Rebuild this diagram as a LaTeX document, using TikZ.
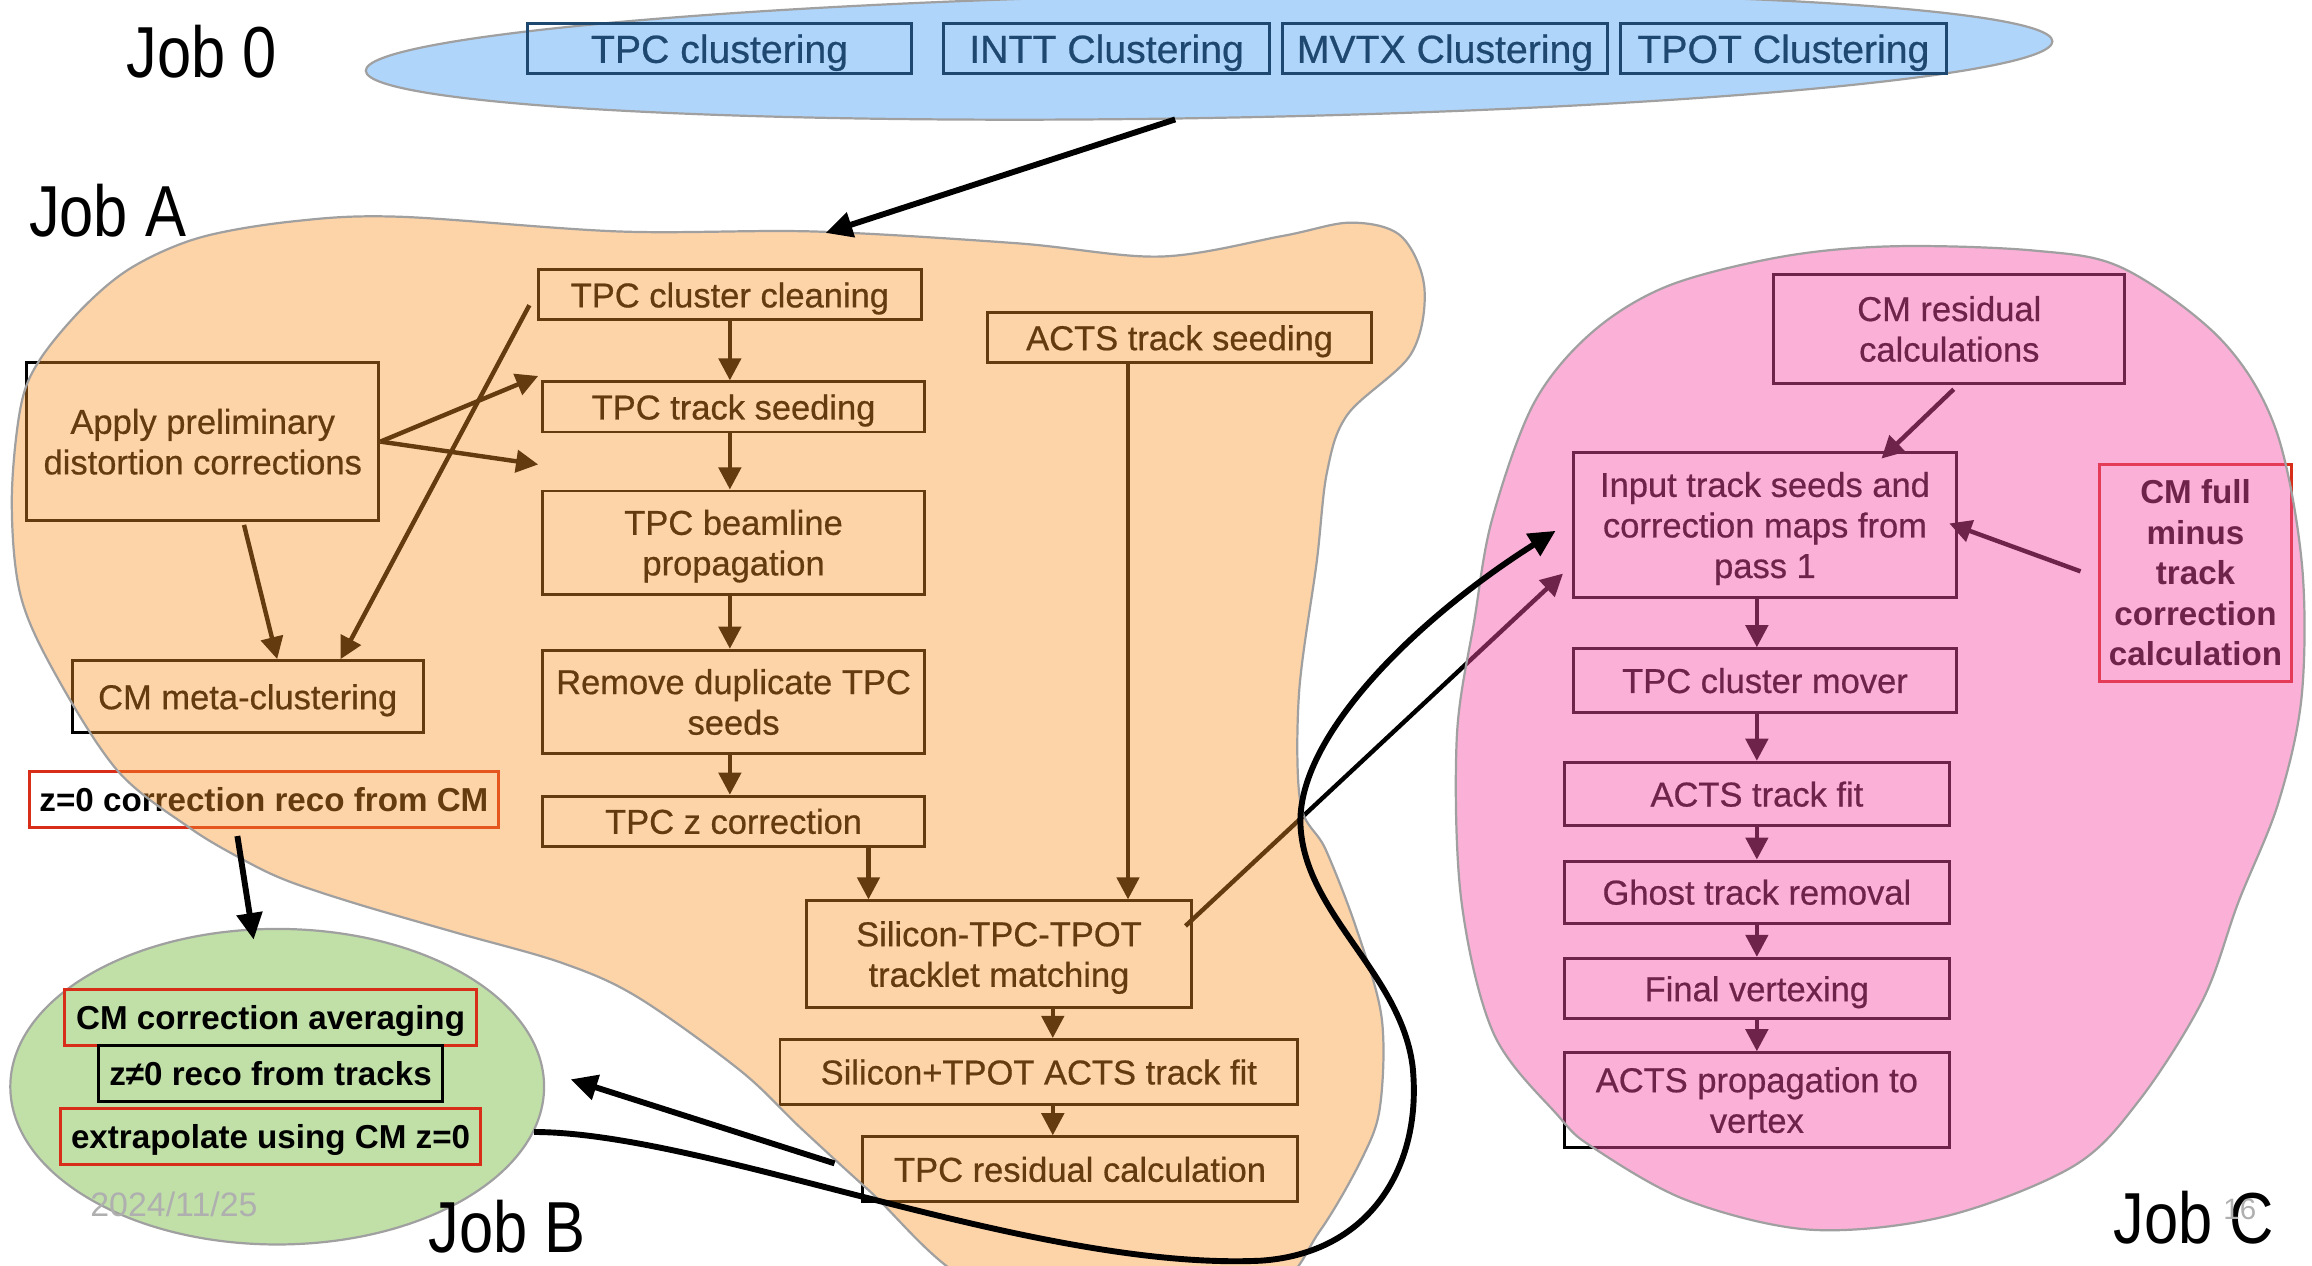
\documentclass[tikz,border=0pt]{standalone}
\usepackage{fontspec}
\setmainfont{Liberation Sans}
\newfontfamily\medfont[FakeBold=0.6]{Liberation Sans}
\newfontfamily\jobfont[FakeStretch=0.85]{Liberation Sans}
\usetikzlibrary{arrows.meta,calc,shapes.geometric}
\definecolor{blobO}{RGB}{250,145,38}
\definecolor{blobP}{RGB}{244,80,166}
\definecolor{jobzero}{RGB}{176,213,250}
\definecolor{navy}{RGB}{31,72,112}
\definecolor{jobBgreen}{RGB}{192,224,168}
\definecolor{outline}{RGB}{160,160,160}
\definecolor{redbox}{RGB}{215,45,25}
\definecolor{datagray}{RGB}{175,175,175}
\begin{document}
\begin{tikzpicture}[x=1pt,y=-1pt,
 box/.style={draw=black,line width=2pt,inner sep=0pt,align=center,text=black,text depth=0pt,font=\medfont\fontsize{23.4}{27.5}\selectfont},
 jbox/.style={box,draw=navy,text=navy,minimum height=34pt,font=\medfont\fontsize{26.6}{30}\selectfont},
 rbox/.style={box,draw=redbox,font=\fontsize{22.5}{27.5}\selectfont\bfseries},
 bbox/.style={box,font=\fontsize{22.5}{27.5}\selectfont\bfseries},
 flow/.style={line width=3pt,-{Triangle[length=15pt,width=15pt]}},
 big/.style={line width=4pt,-{Triangle[length=18pt,width=17pt]}},
 blob/.style={draw=outline,line width=1.5pt},
 jobl/.style={font=\jobfont\fontsize{49}{55}\selectfont,inner sep=0pt,text=black},
]
\useasboundingbox (0,0) rectangle (1568,858);

% ---------- Job 0 ----------
\path[blob,fill=jobzero,rotate around={1:(820,38)}] (820,38) ellipse [x radius=572,y radius=42];
\node[jbox,minimum width=260pt] (j0tpc) at (488,33) {TPC clustering};
\node[jbox,minimum width=221pt] (j0intt) at (750.5,33) {INTT Clustering};
\node[jbox,minimum width=220pt] (j0mvtx) at (980,33) {MVTX Clustering};
\node[jbox,minimum width=221pt] (j0tpot) at (1209.5,33) {TPOT Clustering};

% ---------- Job A boxes ----------
\node[box,minimum width=260pt,minimum height=34pt] (clean) at (495,200) {TPC cluster cleaning};
\node[box,minimum width=259pt,minimum height=34pt] (seed) at (497.5,276) {TPC track seeding};
\node[box,minimum width=259pt,minimum height=70pt] (beam) at (497.5,368) {TPC beamline\\propagation};
\node[box,minimum width=259pt,minimum height=70pt] (dup) at (497.5,476) {Remove duplicate TPC\\seeds};
\node[box,minimum width=259pt,minimum height=34pt] (zcorr) at (497.5,557) {TPC z correction};
\node[box,minimum width=260pt,minimum height=34pt] (acts) at (800,229) {ACTS track seeding};
\node[box,minimum width=239pt,minimum height=107pt] (apply) at (137.5,299.5) {Apply preliminary\\distortion corrections};
\node[box,minimum width=238pt,minimum height=49pt] (meta) at (168,472.5) {CM meta-clustering};
\node[rbox,minimum width=318pt,minimum height=38pt] (zzero) at (179,542) {z=0 correction reco from CM};
\node[box,minimum width=261pt,minimum height=72pt] (match) at (677.5,647) {Silicon-TPC-TPOT\\tracklet matching};
\node[box,minimum width=351pt,minimum height=44pt] (silfit) at (704.5,727) {Silicon+TPOT ACTS track fit};
\node[box,minimum width=295pt,minimum height=44pt] (resid) at (732.5,793) {TPC residual calculation};

% ---------- Job C boxes ----------
\node[box,minimum width=238pt,minimum height=74pt] (cmres) at (1322,223) {CM residual\\calculations};
\node[box,minimum width=260pt,minimum height=98pt] (input) at (1197,356) {Input track seeds and\\correction maps from\\pass 1};
\node[box,minimum width=260pt,minimum height=43pt] (mover) at (1197,461.5) {TPC cluster mover};
\node[box,minimum width=261pt,minimum height=43pt] (fit) at (1191.5,538.5) {ACTS track fit};
\node[box,minimum width=261pt,minimum height=42pt] (ghost) at (1191.5,605) {Ghost track removal};
\node[box,minimum width=261pt,minimum height=41pt] (final) at (1191.5,670.5) {Final vertexing};
\node[box,minimum width=261pt,minimum height=64pt] (prop) at (1191.5,746) {ACTS propagation to\\vertex};
\node[rbox,minimum width=130pt,minimum height=147pt] (cmfull) at (1489,388.5) {CM full\\minus\\track\\correction\\calculation};

% ---------- connectors under the overlays ----------
\draw[flow] (clean.south) -- (seed.north -| clean.south);
\draw[flow] (seed.south -| clean.south) -- (beam.north -| clean.south);
\draw[flow] (beam.south -| clean.south) -- (dup.north -| clean.south);
\draw[flow] (dup.south -| clean.south) -- (zcorr.north -| clean.south);
\coordinate (mzin) at ($(match.north west)+(43,0)$);
\coordinate (main) at ($(match.north west)+(219,0)$);
\draw[flow] (mzin |- zcorr.south) -- (mzin);
\draw[flow] (main |- acts.south) -- (main);
\coordinate (mcol) at ($(silfit.north west)+(186,0)$);
\draw[flow] (mcol |- match.south) -- (mcol);
\draw[flow] (mcol |- silfit.south) -- (mcol |- resid.north);
\coordinate (gapin) at ($(seed.south west)+(-2,21)$);
\draw[flow] (apply.east) -- ($(seed.north west)+(-2,-3)$);
\draw[flow] (apply.east) -- (gapin);
\draw[flow] ($(apply.south)+(28,2)$) -- ($(meta.north)+(20,0)$);
\draw[flow] ($(clean.west)+(-5,7)$) -- ($(meta.north)+(63,0)$);
\draw[flow] ($(match.east)+(-5,-19)$) -- ($(input.west)+(-6,33)$);
\draw[flow] ($(cmres.south)+(3,3)$) -- ($(input.north)+(79,5)$);
\draw[flow] ($(cmfull.west)+(-12,-1)$) -- ($(input.east)+(-6,-1)$);
\draw[flow] (input.south -| fit) -- (mover.north -| fit);
\draw[flow] (mover.south -| fit) -- (fit.north);
\draw[flow] (fit.south) -- (ghost.north);
\draw[flow] (ghost.south) -- (final.north);
\draw[flow] (final.south) -- (prop.north);

% ---------- translucent overlays ----------
\path[blob,fill=blobO,fill opacity=0.4] plot[smooth cycle,tension=0.55] coordinates {
 (136,161) (200,150) (271,147) (420,157) (552,157) (690,165) (787,174) (870,160) (916,151)
 (950,160) (966,195) (957,240) (914,281) (900,320) (893,381) (881,470) (882,545) (899,576)
 (920,630) (937,690) (936,750) (924,785) (895,835) (860,875) (760,885) (660,870) (590,808)
 (543,765) (502,726) (432,676) (381,653) (311,633) (242,613) (194,597) (163,582) (128,561)
 (80,523) (38,458) (14,404) (8,340) (14,276) (27,244) (57,208) (90,181)};
\path[blob,fill=blobP,fill opacity=0.45] plot[smooth cycle,tension=0.55] coordinates {
 (1209,174) (1285,167) (1380,170) (1440,182) (1506,230) (1543,290) (1561,381) (1561,472)
 (1545,545) (1518,612) (1494,678) (1451,746) (1406,791) (1319,825) (1228,834) (1144,814)
 (1080,778) (1057,757) (1013,701) (991,610) (988,500) (1000,420) (1012,352) (1040,274)
 (1079,226) (1131,194)};

% ---------- Job B ----------
\node[ellipse,draw=outline,line width=1.5pt,fill=jobBgreen,minimum width=362pt,minimum height=214pt,inner sep=0pt] (jobB) at (188,737) {};
\node[rbox,minimum width=279pt,minimum height=38pt] (bavg) at (183.5,690) {CM correction averaging};
\node[bbox,minimum width=233pt,minimum height=38pt] (bz) at (183.5,728) {z≠0 reco from tracks};
\node[rbox,minimum width=285pt,minimum height=38pt] (bext) at (183.5,771) {extrapolate using CM z=0};

% ---------- black connectors on top ----------
\coordinate (j0out) at (797,81);
\coordinate (jAin) at (560,158);
\draw[big] (j0out) -- (jAin);
\draw[big] ($(zzero.south)+(-18,5)$) -- ($(jobB.north)+(-16,8)$);
\coordinate (bin) at (387,732);
\draw[big] ($(resid.west)+(-18,-4)$) -- (bin);
\coordinate (cin) at ($(input.west)+(-11,4)$);
\draw[big] (jobB.-10) .. controls (480,768) and (700,862) .. (855,855)
  .. controls (930,850) and (965,790) .. (958,723)
  .. controls (950,660) and (885,620) .. (882,560)
  .. controls (879,500) and (960,420) .. (cin);

% ---------- labels ----------
\node[jobl] (lab0) at (137,35) {Job 0};
\node[jobl] (labA) at (73,143) {Job A};
\node[jobl] (labB) at (344,832) {Job B};
\node[jobl] (labC) at (1488,826) {Job C};
\node[font=\fontsize{23}{26}\selectfont,text=datagray,inner sep=0pt] (date) at (118,817) {2024/11/25};
\node[font=\fontsize{20}{24}\selectfont,text=datagray,inner sep=0pt] (pnum) at (1519,820) {16};
\end{tikzpicture}
\end{document}
